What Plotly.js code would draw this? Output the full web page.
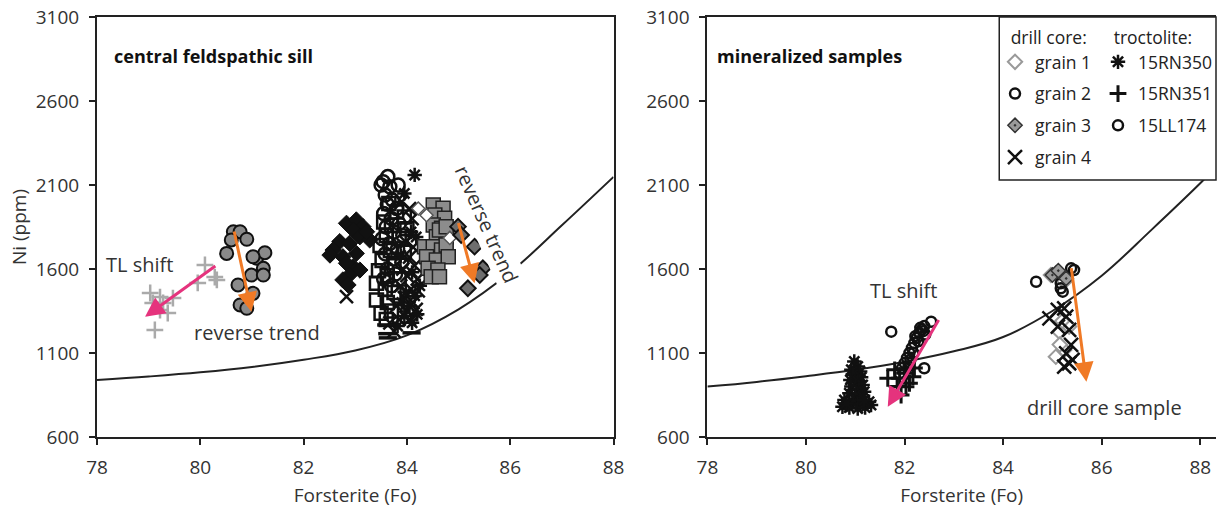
<!DOCTYPE html>
<html><head><meta charset="utf-8">
<script src="https://cdn.plot.ly/plotly-3.0.1.min.js"></script>
<style>html,body{margin:0;padding:0;background:#fff}#chart{width:1218px;height:508px}</style>
</head><body><div id="chart"></div>
<script>
// ---------- data ----------
var xTicks = [78, 80, 82, 84, 86, 88];
var yTicks = [600, 1100, 1600, 2100, 2600, 3100];

// model curves
var curveL_fo = [78, 79, 80, 81, 82, 83, 84, 85, 86, 87, 88];
var curveL_ni = [939, 960, 985, 1017, 1060, 1115, 1205, 1360, 1580, 1860, 2148];
var curveR_fo = [78, 79, 80, 81, 82, 83, 84, 85, 86, 87, 88, 88.32];
var curveR_ni = [900, 928, 962, 1000, 1048, 1110, 1195, 1350, 1560, 1830, 2110, 2205];

// central feldspathic sill
var tlPlus_fo = [80.09, 80.28, 80.32, 79.95, 79.03, 79.22, 79.47, 79.08, 79.37, 79.22, 79.12, 79.28];
var tlPlus_ni = [1624, 1552, 1535, 1517, 1457, 1433, 1427, 1398, 1338, 1356, 1237, 1398];

var greyCirc_fo = [80.64, 80.77, 80.60, 80.90, 80.51, 81.09, 81.25, 81.02, 81.22, 80.99, 81.22, 80.73, 81.02, 80.77, 80.90];
var greyCirc_ni = [1822, 1822, 1773, 1777, 1693, 1664, 1697, 1673, 1604, 1564, 1564, 1505, 1455, 1386, 1366];

var blackDia_fo = [82.83, 83.02, 83.15, 82.96, 83.09, 83.28, 83.22, 82.70, 82.89, 82.57, 82.51, 82.76, 83.02, 82.96, 82.83, 83.09, 82.89, 82.76, 82.86];
var blackDia_ni = [1872, 1892, 1852, 1832, 1792, 1773, 1822, 1763, 1753, 1713, 1683, 1673, 1693, 1614, 1634, 1594, 1564, 1535, 1505];

var colCirc_fo = [83.54, 83.63, 83.50, 83.83, 83.67, 83.58, 83.72, 83.62, 83.80, 83.55, 83.70, 83.85, 83.60, 83.75, 83.92, 83.52, 83.66, 83.82, 83.58, 83.74, 83.90, 83.62, 83.78, 83.55, 83.70];
var colCirc_ni = [2120, 2150, 2100, 2100, 2090, 2040, 2010, 1985, 1960, 1930, 1900, 1870, 1850, 1820, 1800, 1780, 1750, 1720, 1690, 1660, 1640, 1600, 1570, 1540, 1500];

var colSq_fo = [83.65, 83.80, 83.95, 83.55, 83.70, 84.00, 83.60, 83.85, 83.48, 83.68, 83.95, 83.52, 83.75, 83.45, 83.62, 83.85, 83.41, 83.58, 83.75, 83.41, 83.62, 83.50, 83.70, 83.60];
var colSq_ni = [1990, 1940, 1910, 1880, 1860, 1840, 1800, 1780, 1740, 1710, 1700, 1650, 1620, 1590, 1560, 1540, 1515, 1480, 1460, 1415, 1400, 1336, 1350, 1300];

var colX_fo = [83.90, 84.05, 84.10, 83.98, 84.12, 84.05, 83.92, 84.15, 84.00, 84.20, 83.88, 84.08, 84.22, 83.95, 84.12, 83.80, 84.00, 84.18, 83.67, 83.85, 84.05, 83.75, 82.83];
var colX_ni = [2000, 1960, 1900, 1760, 1730, 1670, 1600, 1620, 1560, 1540, 1500, 1480, 1470, 1430, 1400, 1380, 1350, 1360, 1280, 1300, 1300, 1230, 1435];

var colAst_fo = [84.15, 83.95, 84.08, 84.18, 83.88, 84.10, 84.25, 83.98, 84.15, 83.90, 84.05, 84.20, 83.95, 84.10, 83.82];
var colAst_ni = [2160, 2050, 1820, 1790, 1680, 1580, 1500, 1460, 1440, 1400, 1380, 1330, 1320, 1280, 1260];

var colDash_fo = [83.60, 83.63, 84.09, 83.62];
var colDash_ni = [1267, 1190, 1220, 1215];

var greySq_fo = [84.51, 84.70, 84.54, 84.73, 84.51, 84.67, 84.57, 84.76, 84.34, 84.51, 84.67, 84.76, 84.38, 84.57, 84.80, 84.41, 84.60, 84.47, 84.63, 84.76, 84.63];
var greySq_ni = [1981, 1961, 1921, 1902, 1862, 1842, 1792, 1792, 1733, 1733, 1713, 1743, 1673, 1653, 1673, 1604, 1594, 1554, 1832, 1852, 1554];

var openDia_fo = [84.38, 84.83, 84.22];
var openDia_ni = [1920, 1785, 1960];

var darkDia_fo = [84.99, 85.05, 85.31, 85.47, 85.41, 85.18];
var darkDia_ni = [1852, 1802, 1733, 1604, 1564, 1485];

// mineralized samples: troctolite
var rn350_fo = [80.98, 81.05, 80.92, 81.10, 80.95, 81.12, 80.90, 81.05, 81.15, 80.92, 81.08, 81.18, 80.88, 81.00, 81.15, 80.78, 80.95, 81.10, 81.28, 80.74, 80.88, 81.05, 81.20, 81.32, 80.82, 81.18];
var rn350_ni = [1050, 1020, 1000, 990, 970, 955, 940, 930, 910, 900, 880, 870, 860, 850, 840, 820, 810, 800, 810, 780, 775, 770, 775, 790, 800, 820];

var rn351_fo = [81.66, 81.90, 82.17, 82.03, 81.93, 81.80, 82.00, 82.10, 81.85, 82.20];
var rn351_ni = [949, 949, 959, 899, 850, 1000, 980, 920, 900, 1010];

var ll174_fo = [81.73, 82.54, 82.40, 82.35, 82.40, 82.30, 82.25, 82.38, 82.20, 82.15, 82.28, 82.10, 82.05, 82.18, 82.00, 82.12, 81.95, 82.08, 81.90, 82.22, 82.32, 82.42];
var ll174_ni = [1227, 1286, 1009, 1240, 1260, 1220, 1190, 1230, 1160, 1130, 1170, 1100, 1070, 1100, 1040, 1060, 1010, 1020, 980, 1200, 1250, 1210];

// mineralized samples: drill core
var grain1_fo = [84.97, 85.07, 85.24, 85.34, 85.14, 85.07, 85.24, 85.20, 85.15];
var grain1_ni = [1564, 1574, 1524, 1257, 1227, 1078, 1118, 1290, 1150];
var grain2_fo = [85.44, 85.38, 85.17, 85.21, 85.17, 84.67];
var grain2_ni = [1594, 1604, 1515, 1465, 1485, 1524];
var grain3_fo = [85.00, 85.28, 85.12];
var grain3_ni = [1564, 1544, 1590];
var grain4_fo = [85.11, 85.24, 84.94, 85.28, 85.11, 85.34, 85.38, 85.28, 85.34, 85.24, 85.41];
var grain4_ni = [1356, 1366, 1306, 1316, 1257, 1237, 1148, 1098, 1039, 1019, 1059];

// ---------- styles ----------
var FONT = 'Open Sans, Noto Sans, sans-serif';
var TXT = '#333';
var AX = '#222';
var ORANGE = '#f07a26';
var PINK = '#e5337d';
var NB = '\u00a0\u00a0\u00a0';

function pts(x, y, xa, ya, marker, extra) {
  var t = {type: 'scatter', mode: 'markers', x: x, y: y, xaxis: xa, yaxis: ya, marker: marker, showlegend: false, hoverinfo: 'skip'};
  for (var k in extra) t[k] = extra[k];
  return t;
}

var traces = [
  {type: 'scatter', mode: 'lines', x: curveL_fo, y: curveL_ni, xaxis: 'x', yaxis: 'y', line: {color: AX, width: 2, shape: 'spline', smoothing: 1.1}, showlegend: false, hoverinfo: 'skip'},
  pts(tlPlus_fo, tlPlus_ni, 'x', 'y', {symbol: 'cross-thin-open', size: 12, color: '#aaaaaa', line: {width: 2.5, color: '#aaaaaa'}}),
  pts(greyCirc_fo, greyCirc_ni, 'x', 'y', {symbol: 'circle', size: 13, color: '#8a8a8a', line: {width: 2, color: '#111'}}),
  pts(blackDia_fo, blackDia_ni, 'x', 'y', {symbol: 'diamond', size: 12.5, color: '#111', line: {width: 1, color: '#111'}}),
  pts(colSq_fo, colSq_ni, 'x', 'y', {symbol: 'square-open', size: 13, color: '#111', line: {width: 2.5, color: '#111'}}),
  pts(colCirc_fo, colCirc_ni, 'x', 'y', {symbol: 'circle-open', size: 13, color: '#111', line: {width: 2.5, color: '#111'}}),
  pts(colX_fo, colX_ni, 'x', 'y', {symbol: 'x-thin-open', size: 13, color: '#111', line: {width: 2.5, color: '#111'}}),
  pts(colAst_fo, colAst_ni, 'x', 'y', {symbol: 'asterisk-open', size: 12, color: '#111', line: {width: 2.5, color: '#111'}}),
  pts(colDash_fo, colDash_ni, 'x', 'y', {symbol: 'line-ew-open', size: 13, color: '#111', line: {width: 3.5, color: '#111'}}),
  pts(greySq_fo, greySq_ni, 'x', 'y', {symbol: 'square', size: 14, color: '#8c8c8c', line: {width: 1.5, color: '#222'}}),
  pts(openDia_fo, openDia_ni, 'x', 'y', {symbol: 'diamond', size: 10, color: '#fff', line: {width: 1.5, color: '#555'}}),
  pts(darkDia_fo, darkDia_ni, 'x', 'y', {symbol: 'diamond', size: 12, color: '#6e6e6e', line: {width: 2, color: '#111'}}),

  {type: 'scatter', mode: 'lines', x: curveR_fo, y: curveR_ni, xaxis: 'x2', yaxis: 'y2', line: {color: AX, width: 2, shape: 'spline', smoothing: 1.1}, showlegend: false, hoverinfo: 'skip'},

  pts(grain1_fo, grain1_ni, 'x2', 'y2', {symbol: 'diamond', size: 11, color: '#fff', line: {width: 2, color: '#9a9a9a'}}, {name: 'grain 1', showlegend: true, legend: 'legend', legendgroup: 'g1'}),
  pts(grain2_fo, grain2_ni, 'x2', 'y2', {symbol: 'circle-open', size: 10, color: '#111', line: {width: 2.5, color: '#111'}}, {name: 'grain 2', showlegend: true, legend: 'legend', legendgroup: 'g2'}),
  pts(grain3_fo, grain3_ni, 'x2', 'y2', {symbol: 'diamond-dot', size: 11, color: '#9a9a9a', line: {width: 1.5, color: '#333'}}, {name: 'grain 3', showlegend: true, legend: 'legend', legendgroup: 'g3'}),
  pts(grain4_fo, grain4_ni, 'x2', 'y2', {symbol: 'x-thin-open', size: 14, color: '#111', line: {width: 2.5, color: '#111'}}, {name: 'grain 4', showlegend: true, legend: 'legend', legendgroup: 'g4'}),

  pts(rn350_fo, rn350_ni, 'x2', 'y2', {symbol: 'asterisk-open', size: 12, color: '#111', line: {width: 2.5, color: '#111'}}, {name: '15RN350', showlegend: true, legend: 'legend2', legendgroup: 't1'}),
  pts(rn351_fo, rn351_ni, 'x2', 'y2', {symbol: 'cross-thin-open', size: 12, color: '#111', line: {width: 3, color: '#111'}}, {name: '15RN351', showlegend: true, legend: 'legend2', legendgroup: 't2'}),
  pts(ll174_fo, ll174_ni, 'x2', 'y2', {symbol: 'circle-open', size: 10, color: '#111', line: {width: 2.5, color: '#111'}}, {name: '15LL174', showlegend: true, legend: 'legend2', legendgroup: 't3'})
];

function arrow(xa, ya, x, y, ax, ay, color) {
  return {xref: xa, yref: ya, axref: xa, ayref: ya, x: x, y: y, ax: ax, ay: ay, text: '', showarrow: true,
    arrowhead: 2, arrowsize: 1.3, arrowwidth: 3, arrowcolor: color, standoff: 0, startstandoff: 0};
}
function label(xa, ya, x, y, text, extra) {
  var a = {xref: xa, yref: ya, x: x, y: y, text: text, showarrow: false, font: {family: FONT, size: 20, color: TXT}};
  for (var k in extra) a[k] = extra[k];
  return a;
}

var annotations = [
  arrow('x', 'y', 80.99, 1346, 80.65, 1832, ORANGE),
  arrow('x', 'y', 85.31, 1515, 84.99, 1882, ORANGE),
  arrow('x', 'y', 78.93, 1316, 80.32, 1624, PINK),
  arrow('x2', 'y2', 85.69, 929, 85.38, 1614, ORANGE),
  arrow('x2', 'y2', 81.66, 780, 82.71, 1306, PINK),
  label('x', 'y', 78.83, 1624, 'TL shift'),
  label('x', 'y', 81.09, 1225, 'reverse trend'),
  label('x', 'y', 85.54, 1862, 'reverse trend', {textangle: 66, bgcolor: '#fff'}),
  label('x2', 'y2', 81.98, 1475, 'TL shift'),
  label('x2', 'y2', 86.05, 773, 'drill core sample'),
  label('paper', 'paper', 0.0134, 0.940, '<b>central feldspathic sill</b>', {xanchor: 'left', font: {family: FONT, size: 18, color: '#111'}}),
  label('paper', 'paper', 0.5527, 0.940, '<b>mineralized samples</b>', {xanchor: 'left', font: {family: FONT, size: 18, color: '#111'}})
];

function axisBase() {
  return {showline: true, linewidth: 2, linecolor: AX, ticks: 'outside', ticklen: 6, tickwidth: 2, tickcolor: AX,
    showgrid: false, zeroline: false, automargin: false, tickfont: {family: FONT, size: 19, color: TXT}};
}
var xa1 = axisBase(); xa1.domain = [0, 0.4616]; xa1.range = [78, 88]; xa1.tickvals = xTicks; xa1.mirror = true; xa1.anchor = 'y';
xa1.ticklabelstandoff = 6; xa1.title = {text: 'Forsterite (Fo)', font: {family: FONT, size: 19, color: TXT}, standoff: 10};
var ya1 = axisBase(); ya1.domain = [0, 1]; ya1.range = [600, 3100]; ya1.tickvals = yTicks; ya1.mirror = true; ya1.anchor = 'x';
ya1.ticklabelstandoff = 6; ya1.title = {text: 'Ni (ppm)', font: {family: FONT, size: 19, color: TXT}, standoff: 4};
var xa2 = axisBase(); xa2.domain = [0.5455, 1]; xa2.range = [78, 88.32]; xa2.tickvals = xTicks; xa2.mirror = true; xa2.anchor = 'y2';
xa2.ticklabelstandoff = 6; xa2.title = {text: 'Forsterite (Fo)', font: {family: FONT, size: 19, color: TXT}, standoff: 10};
var ya2 = axisBase(); ya2.domain = [0, 1]; ya2.range = [600, 3100]; ya2.tickvals = yTicks; ya2.anchor = 'x2'; ya2.ticklabelstandoff = 6;

var legendBase = function (x, title) {
  return {x: x, y: 0.99, xanchor: 'left', yanchor: 'top', bgcolor: 'rgba(0,0,0,0)', borderwidth: 0,
    font: {family: FONT, size: 17.5, color: '#222'}, title: {text: title, font: {family: FONT, size: 17.5, color: '#222'}},
    traceorder: 'grouped', tracegroupgap: 6, itemwidth: 30, itemclick: false, itemdoubleclick: false};
};

var layout = {
  width: 1218, height: 508,
  margin: {l: 97, r: 1, t: 17, b: 71},
  paper_bgcolor: '#fff', plot_bgcolor: '#fff',
  font: {family: FONT, color: TXT},
  xaxis: xa1, yaxis: ya1, xaxis2: xa2, yaxis2: ya2,
  legend: legendBase(0.8018, NB + 'drill core:'),
  legend2: legendBase(0.8938, NB + 'troctolite:'),
  shapes: [{type: 'rect', xref: 'paper', yref: 'paper', x0: 0.8063, x1: 1.0, y0: 0.6119, y1: 1.0,
    fillcolor: '#fff', line: {color: AX, width: 1.5}, layer: 'above'}],
  annotations: annotations
};

Plotly.newPlot('chart', traces, layout, {staticPlot: true, displayModeBar: false});
</script></body></html>
